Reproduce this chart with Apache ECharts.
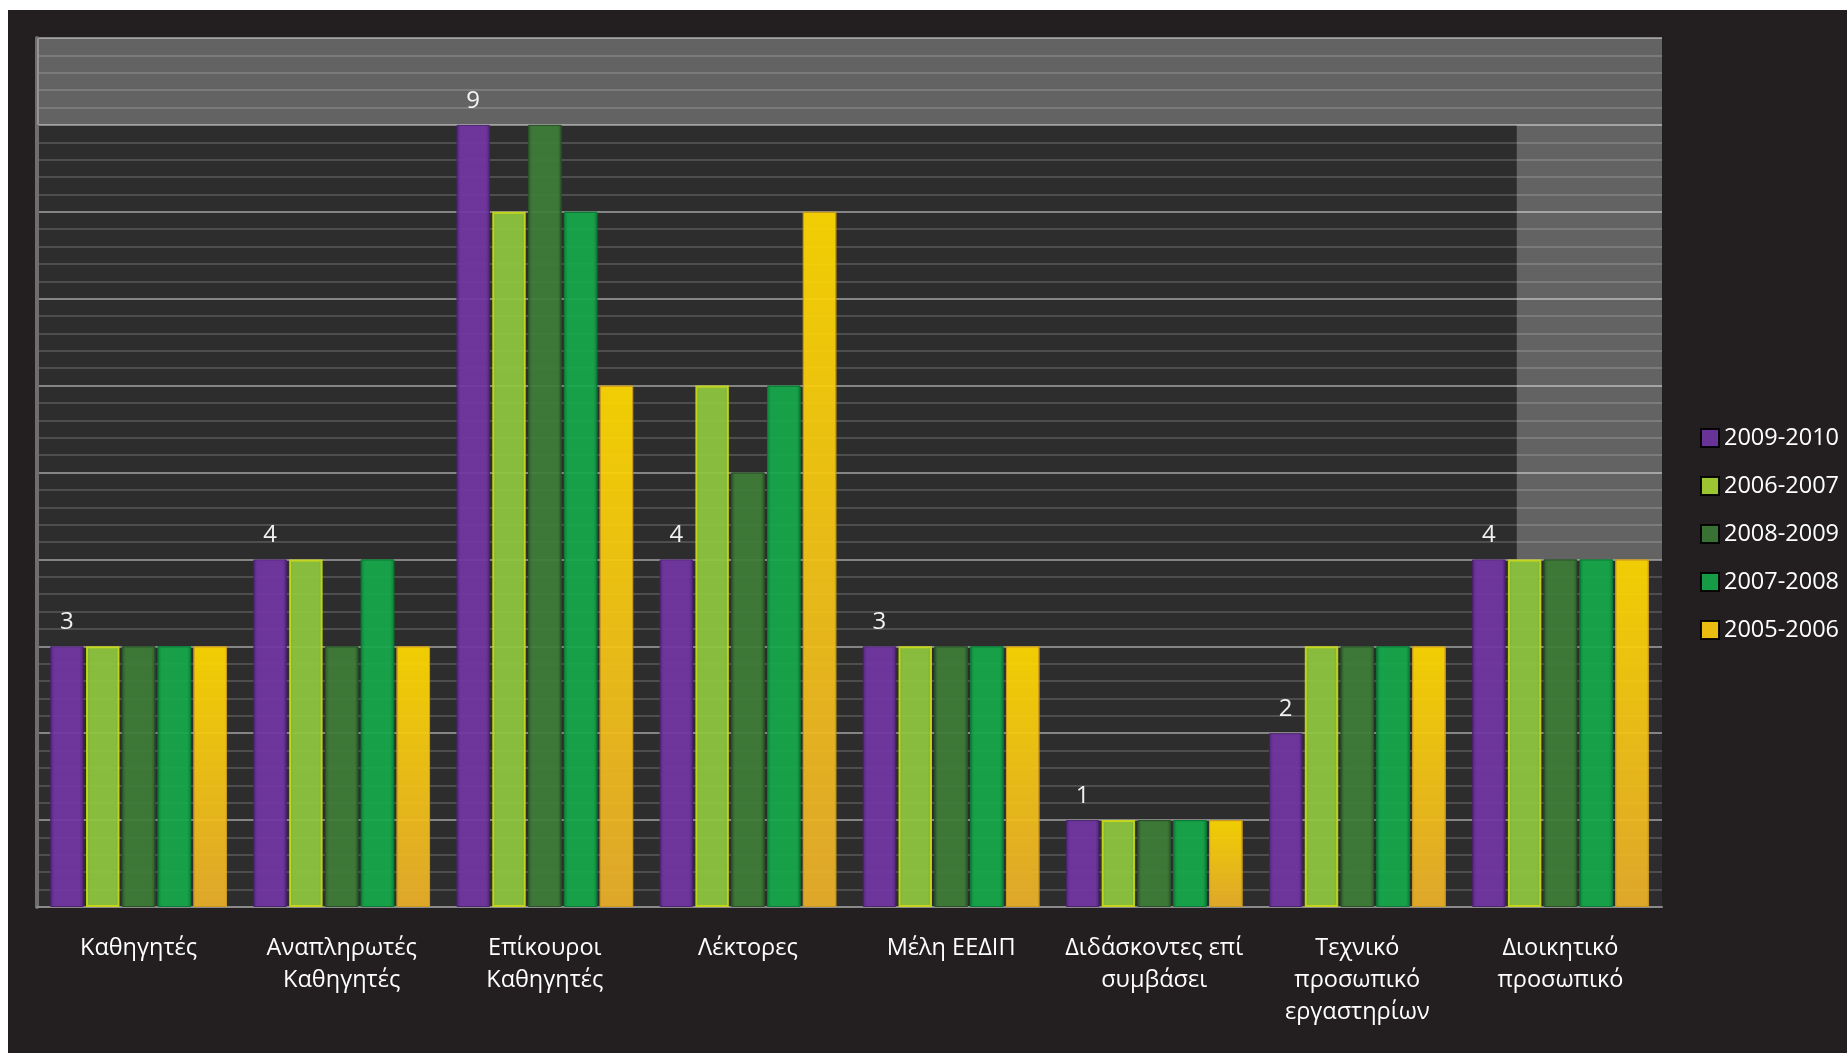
<!DOCTYPE html>
<html>
<head>
<meta charset="utf-8">
<script src="https://cdn.jsdelivr.net/npm/echarts@6/dist/echarts.min.js"></script>
<style>
html,body{margin:0;padding:0;background:#ffffff;}
#chart{position:absolute;left:8px;top:10px;width:1839px;height:1043px;}
</style>
</head>
<body>
<div id="chart"></div>
<script>
const categories = ['Καθηγητές', 'Αναπληρωτές\nΚαθηγητές', 'Επίκουροι\nΚαθηγητές', 'Λέκτορες', 'Μέλη ΕΕΔΙΠ', 'Διδάσκοντες επί\nσυμβάσει', 'Τεχνικό\nπροσωπικό\nεργαστηρίων', 'Διοικητικό\nπροσωπικό'];
const seriesNames = ['2009-2010', '2006-2007', '2008-2009', '2007-2008', '2005-2006'];
const s2009_2010 = [3, 4, 9, 4, 3, 1, 2, 4];
const s2006_2007 = [3, 4, 8, 6, 3, 1, 3, 4];
const s2008_2009 = [3, 3, 9, 5, 3, 1, 3, 4];
const s2007_2008 = [3, 4, 8, 6, 3, 1, 3, 4];
const s2005_2006 = [3, 3, 6, 8, 3, 1, 3, 4];
const yTicks = [0, 1, 2, 3, 4, 5, 6, 7, 8, 9, 10];

function hgrad(edge, mid) {
  return new echarts.graphic.LinearGradient(0, 0, 1, 0, [
    {offset: 0, color: edge}, {offset: 0.12, color: mid}, {offset: 0.5, color: mid},
    {offset: 0.88, color: mid}, {offset: 1, color: edge}
  ]);
}
function vgrad(top, bottom) {
  return new echarts.graphic.LinearGradient(0, 0, 0, 1, [
    {offset: 0, color: top}, {offset: 1, color: bottom}
  ]);
}
const styles = [
  {color: hgrad('#55257f', '#7236a3'), borderColor: '#4a1f70', borderWidth: 1},
  {color: hgrad('#79b832', '#8ec73f'), borderColor: '#c9d818', borderWidth: 2},
  {color: hgrad('#2c5f2b', '#3f7d38'), borderColor: '#2a5428', borderWidth: 1},
  {color: hgrad('#08893c', '#16a94a'), borderColor: '#0a7c36', borderWidth: 1},
  {color: vgrad('#ffd900', '#ebb02a'), borderColor: '#c99a20', borderWidth: 1}
];
const legendColors = ['#6f34a0', '#a6d233', '#3b7736', '#14a448', '#f9c80e'];
const allData = [s2009_2010, s2006_2007, s2008_2009, s2007_2008, s2005_2006];

const chart = echarts.init(document.getElementById('chart'));
const series = seriesNames.map((name, i) => ({
  name: name,
  type: 'bar',
  data: allData[i],
  itemStyle: Object.assign({opacity: 0.93}, styles[i]),
  label: i === 0 ? {show: true, position: 'top', distance: 12, color: '#ffffff', fontSize: 24, fontFamily: 'Open Sans'} : {show: false},
  markArea: i === 0 ? {
    silent: true,
    itemStyle: {color: 'rgba(255,255,255,0.26)'},
    data: [[{yAxis: 9}, {yAxis: 10}]]
  } : undefined,
  emphasis: {disabled: true}
}));
series.forEach(s => { s.barGap = '7%'; s.barCategoryGap = '13%'; });

chart.setOption({
  backgroundColor: '#231f20',
  animation: false,
  grid: {left: 29, top: 28, right: 185, bottom: 146, show: true, backgroundColor: '#2d2d2d', borderWidth: 0},
  legend: {
    orient: 'vertical', left: 1687, top: 411,
    itemWidth: 18, itemHeight: 18, itemGap: 24,
    icon: 'rect',
    textStyle: {color: '#ffffff', fontSize: 23.5, fontFamily: 'Open Sans', lineHeight: 18, padding: [0, 0, 0, 0]},
    data: seriesNames.map((n, i) => ({name: n, itemStyle: {color: legendColors[i], borderColor: '#000', borderWidth: 2}}))
  },
  xAxis: {
    type: 'category', data: categories,
    axisLine: {show: true, lineStyle: {color: '#8a8a8a', width: 2}},
    axisTick: {show: false},
    axisLabel: {interval: 0, color: '#ffffff', fontSize: 23.5, fontFamily: 'Open Sans', lineHeight: 32, margin: 25}
  },
  yAxis: {
    type: 'value', min: yTicks[0], max: yTicks[yTicks.length - 1], interval: 1,
    axisLine: {show: true, lineStyle: {color: '#6e6e6e', width: 4}},
    axisTick: {show: false},
    axisLabel: {show: false},
    splitLine: {show: true, lineStyle: {color: '#858585', width: 2}},
    minorTick: {show: false, splitNumber: 5},
    minorSplitLine: {show: true, lineStyle: {color: '#4e4e4e', width: 2}}
  },
  series: series
});

function addBand() {
  const p7 = chart.convertToPixel({seriesIndex: 0}, [7, 4]);
  const p6 = chart.convertToPixel({seriesIndex: 0}, [6, 10]);
  const bw = p7[0] - p6[0];
  const x0 = p7[0] - 0.215 * bw;
  const rect = chart.getModel().getComponent('grid').coordinateSystem.getRect();
  const x1 = rect.x + rect.width;
  const p9 = chart.convertToPixel({seriesIndex: 0}, [7, 9]);
  chart.setOption({
    graphic: [{
      type: 'rect', silent: true, z: 1,
      shape: {x: x0, y: p9[1], width: x1 - x0, height: p7[1] - p9[1]},
      style: {fill: 'rgba(255,255,255,0.26)'}
    }]
  });
}
addBand();
</script>
</body>
</html>
